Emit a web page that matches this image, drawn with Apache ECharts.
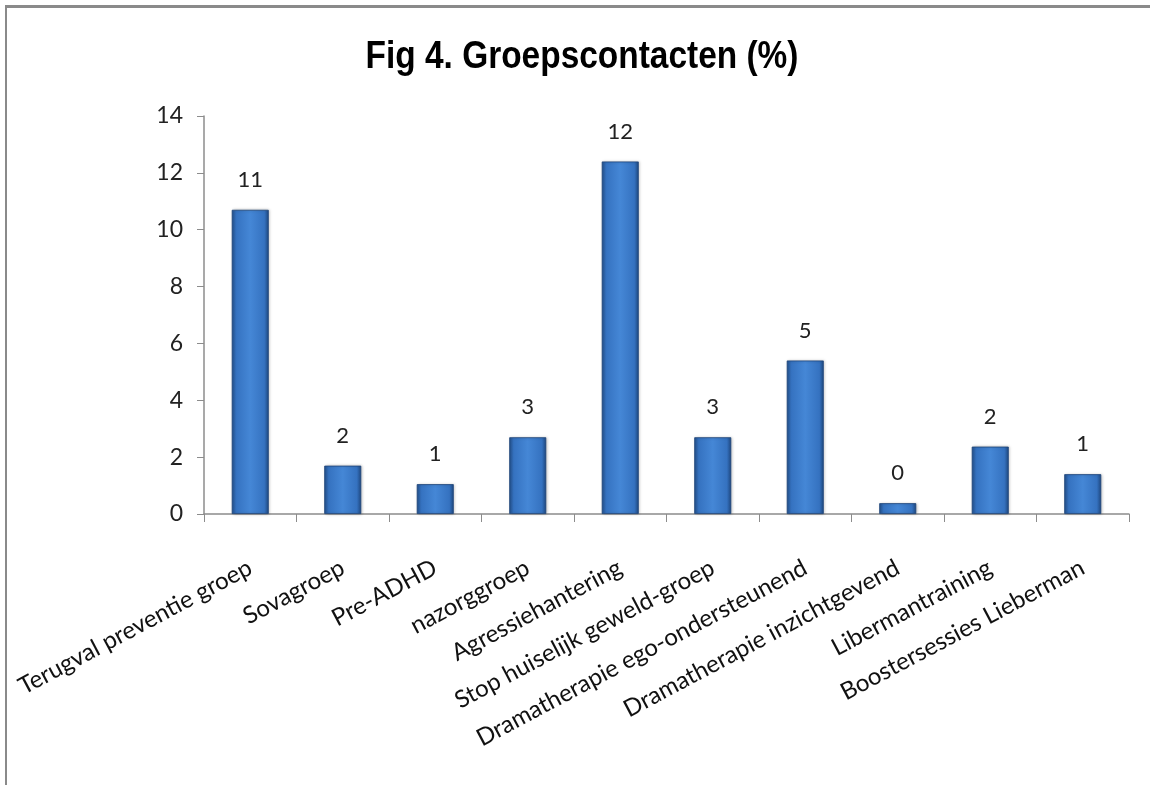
<!DOCTYPE html>
<html>
<head>
<meta charset="utf-8">
<script src="https://cdn.jsdelivr.net/npm/echarts@6/dist/echarts.min.js"></script>
<style>
  html, body { margin: 0; padding: 0; background: #fff; }
  #frame {
    position: absolute; left: 5px; top: 5px; width: 1145px; height: 780px;
    border-top: 3px solid #8a8a8a; border-left: 2px solid #8a8a8a;
    box-sizing: border-box;
  }
  #chart { position: absolute; left: 0; top: 0; width: 1150px; height: 785px; }
</style>
</head>
<body>
<div id="frame"></div>
<div id="chart"></div>
<script>
// Group programmes and their share of group contacts (%)
const categories = [
  'Terugval preventie groep',
  'Sovagroep',
  'Pre-ADHD',
  'nazorggroep',
  'Agressiehantering',
  'Stop huiselijk geweld-groep',
  'Dramatherapie ego-ondersteunend',
  'Dramatherapie inzichtgevend',
  'Libermantraining',
  'Boostersessies Lieberman'
];
const percentages = [10.7, 1.7, 1.05, 2.7, 12.4, 2.7, 5.4, 0.38, 2.37, 1.4];
const yTicks = [0, 2, 4, 6, 8, 10, 12, 14];
const titleText = 'Fig 4. Groepscontacten (%)';

const chart = echarts.init(document.getElementById('chart'), null, { renderer: 'canvas' });

const barFill = new echarts.graphic.LinearGradient(0, 0, 1, 0, [
  { offset: 0, color: '#24528f' },
  { offset: 0.12, color: '#3572c0' },
  { offset: 0.5, color: '#4587d6' },
  { offset: 0.88, color: '#3572c0' },
  { offset: 1, color: '#1f4880' }
]);

const labelFont = 'Lato, "Open Sans", sans-serif';

chart.setOption({
  backgroundColor: 'transparent',
  animation: false,
  // condensed bold heading
  graphic: [{
    type: 'text',
    x: 582,
    y: 58,
    scaleX: 0.88,
    style: {
      text: titleText,
      fontFamily: '"Liberation Sans", Arial, sans-serif',
      fontWeight: 'bold',
      fontSize: 38,
      fill: '#000',
      align: 'center',
      verticalAlign: 'middle'
    }
  }],
  grid: { left: 204, right: 21, top: 116, bottom: 271, containLabel: false },
  xAxis: {
    type: 'category',
    data: categories,
    boundaryGap: true,
    axisLine: { lineStyle: { color: '#8c8c8c', width: 1.5 } },
    axisTick: { show: true, alignWithLabel: false, length: 8, lineStyle: { color: '#8c8c8c' } },
    axisLabel: {
      interval: 0,
      rotate: 28,
      margin: 52,
      fontFamily: labelFont,
      fontSize: 24,
      color: '#111'
    }
  },
  yAxis: {
    type: 'value',
    min: yTicks[0],
    max: yTicks[yTicks.length - 1],
    interval: 2,
    axisLine: { show: true, lineStyle: { color: '#8c8c8c', width: 1.5 } },
    axisTick: { show: true, inside: false, length: 7, lineStyle: { color: '#8c8c8c' } },
    splitLine: { show: false },
    axisLabel: {
      margin: 21,
      fontFamily: labelFont,
      fontSize: 23,
      color: '#222'
    }
  },
  series: [{
    type: 'bar',
    data: percentages,
    barWidth: 37,
    itemStyle: {
      color: barFill,
      borderColor: '#1d4478',
      borderWidth: 0.8,
      shadowColor: 'rgba(0,0,0,0.25)',
      shadowBlur: 3,
      shadowOffsetX: 1,
      shadowOffsetY: 0
    },
    label: {
      show: true,
      position: 'top',
      distance: 19,
      formatter: p => Math.round(p.value).toString(),
      fontFamily: labelFont,
      fontSize: 22,
      color: '#222'
    }
  }]
});
</script>
</body>
</html>
